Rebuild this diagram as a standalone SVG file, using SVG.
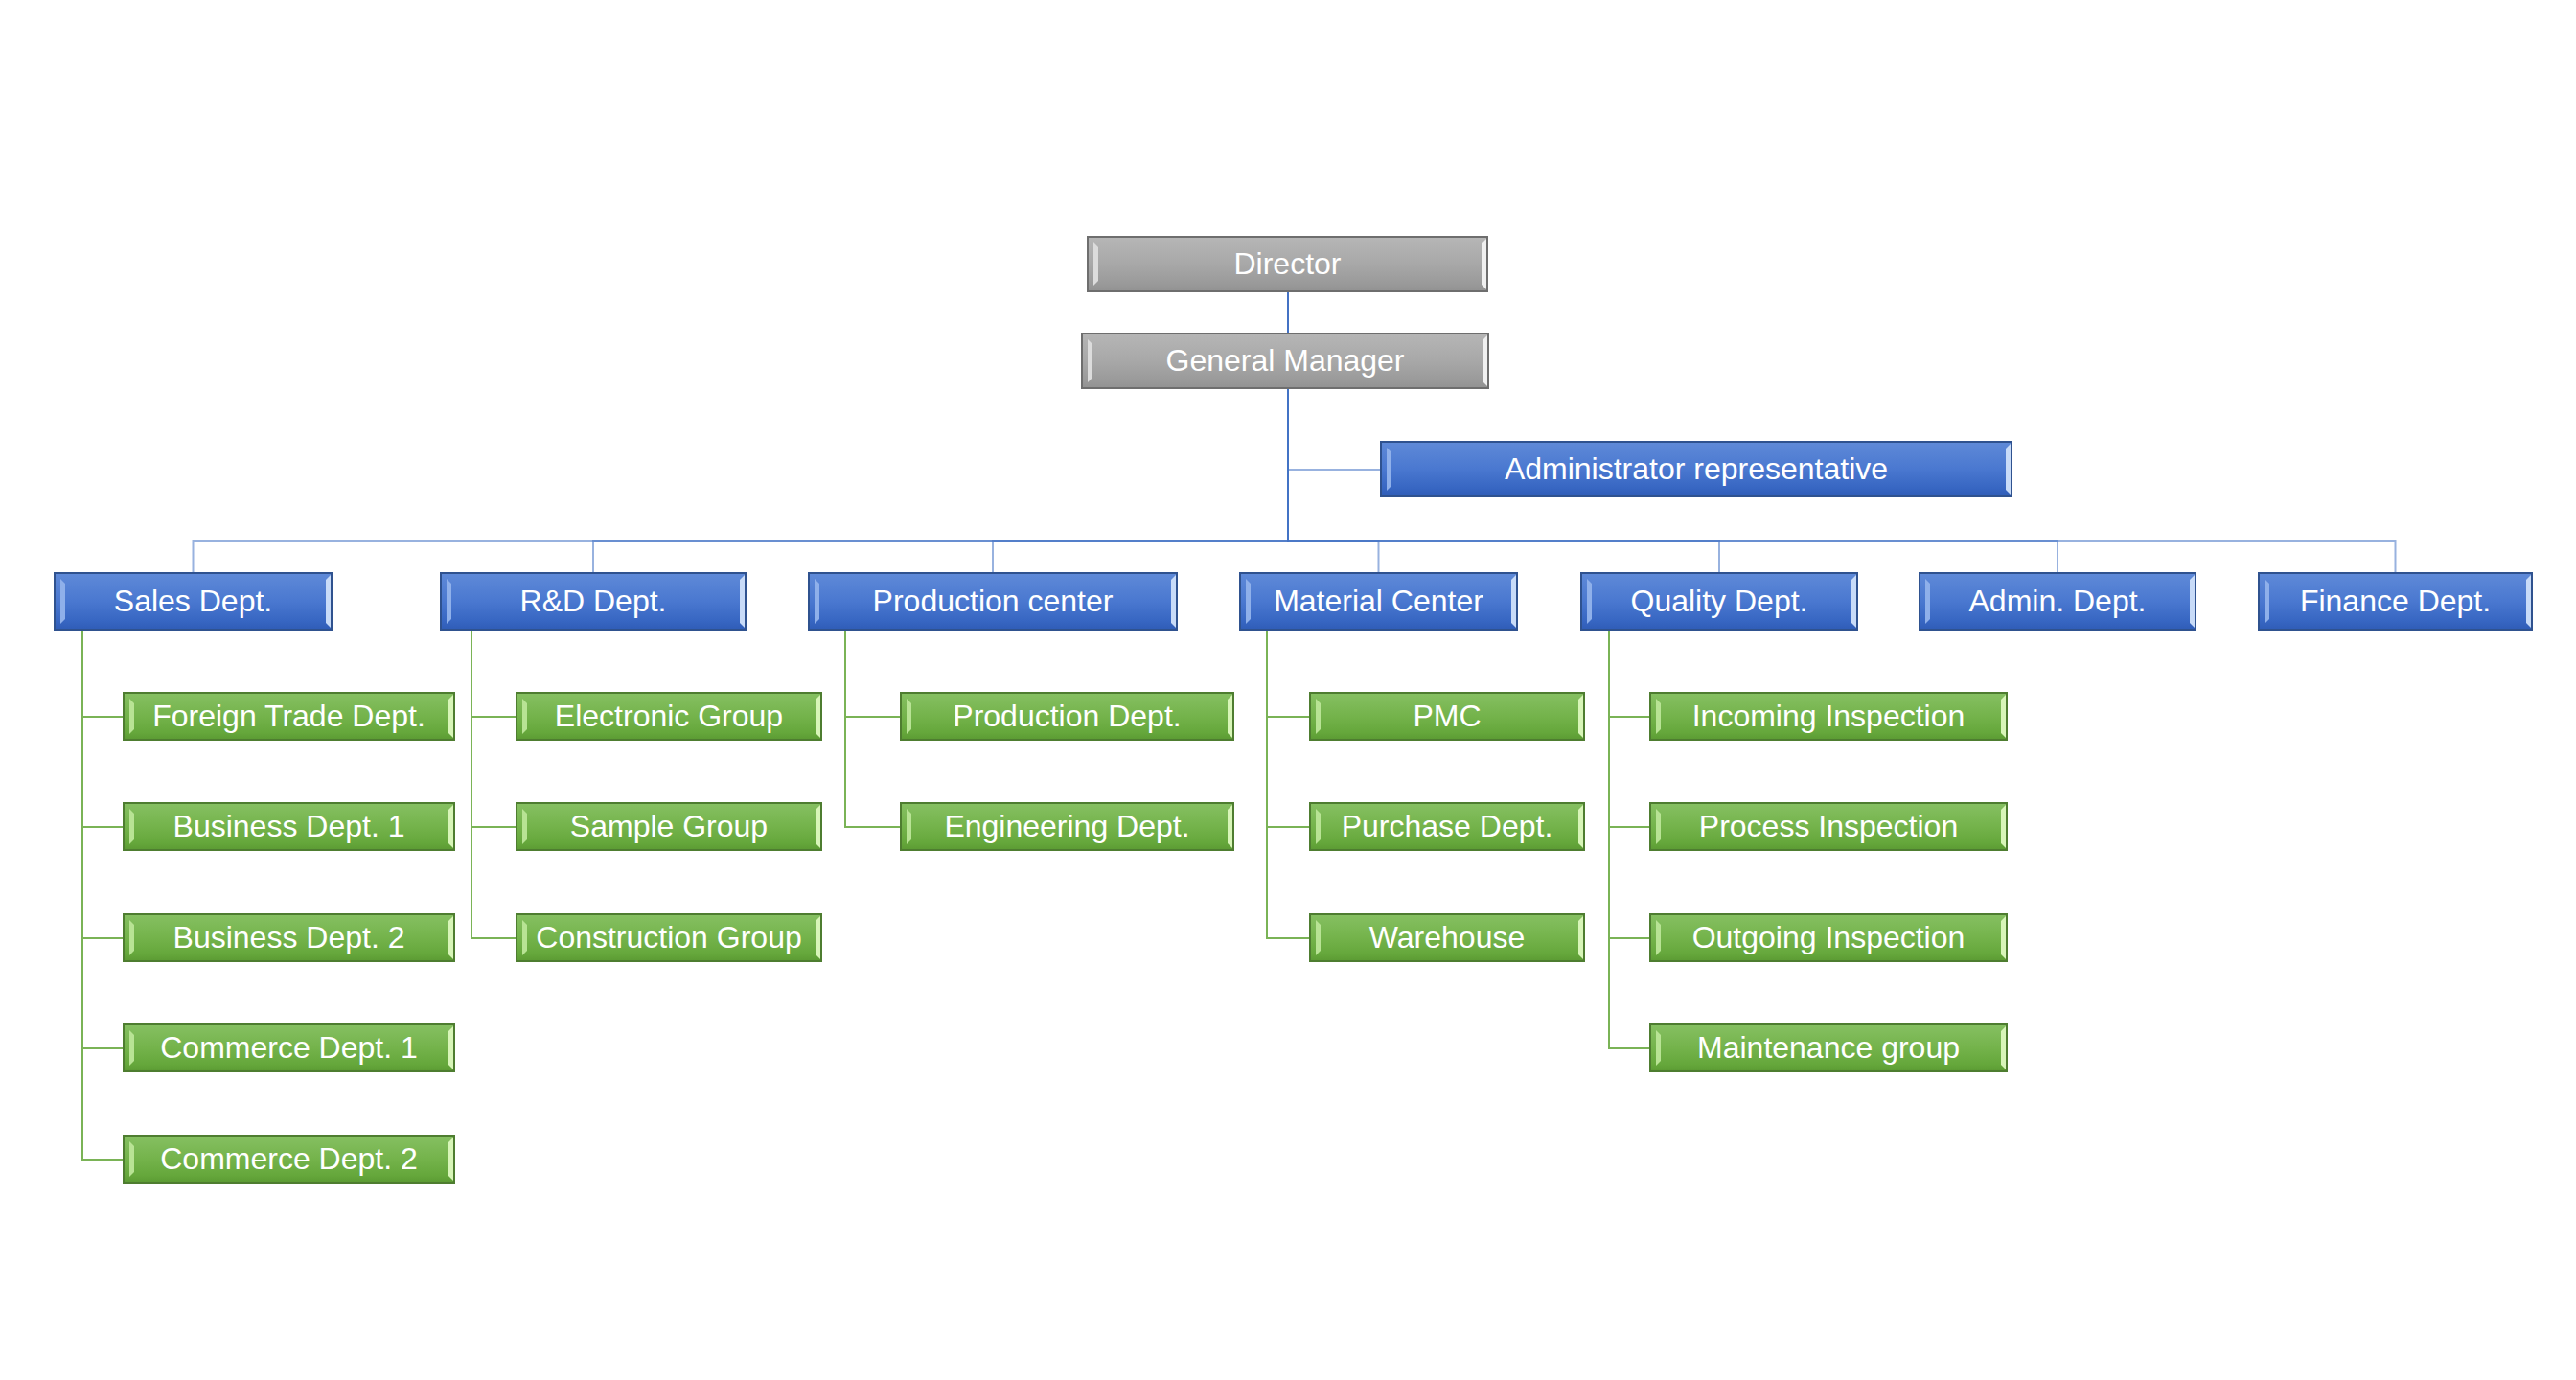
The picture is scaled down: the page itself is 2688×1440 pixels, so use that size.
<svg xmlns="http://www.w3.org/2000/svg" width="2688" height="1440" viewBox="0 0 2688 1440">
<defs>
<linearGradient id="gBlue" x1="0" y1="0" x2="0" y2="1">
<stop offset="0" stop-color="#5f8ad8"/><stop offset="0.5" stop-color="#4a78d0"/><stop offset="0.85" stop-color="#3766c2"/><stop offset="1" stop-color="#2f5cb6"/>
</linearGradient>
<linearGradient id="gGreen" x1="0" y1="0" x2="0" y2="1">
<stop offset="0" stop-color="#86c062"/><stop offset="0.5" stop-color="#74b34b"/><stop offset="0.85" stop-color="#65a73b"/><stop offset="1" stop-color="#5b9a33"/>
</linearGradient>
<linearGradient id="gGray" x1="0" y1="0" x2="0" y2="1">
<stop offset="0" stop-color="#b6b6b6"/><stop offset="0.5" stop-color="#a8a8a8"/><stop offset="0.85" stop-color="#9a9a9a"/><stop offset="1" stop-color="#929292"/>
</linearGradient>
</defs>
<style>
.box{stroke-width:2}
.blue .box{fill:url(#gBlue);stroke:#2f528f}
.green .box{fill:url(#gGreen);stroke:#4e7d30}
.gray .box{fill:url(#gGray);stroke:#6e6e6e}
.blue .bl{fill:#8fb0ea}
.blue .br{fill:#c8dbf8}
.green .bl{fill:#b8e394}
.green .br{fill:#d8f5b8}
.gray .bl{fill:#dcdcdc}
.gray .br{fill:#f0f0f0}
text{font-family:"Liberation Sans",Arial,sans-serif;font-size:32px;fill:#ffffff;text-anchor:middle}
.cb{fill:none;stroke:#4472c4;stroke-width:2;stroke-opacity:0.55}
.cbs{fill:none;stroke:#4472c4;stroke-width:2}
.cg{fill:none;stroke:#7ab356;stroke-width:2}
</style>
<rect width="2688" height="1440" fill="#ffffff"/>
<g id="connectors">
<path class="cbs" d="M1344 304 V348"/>
<path class="cb" d="M1344 405 V490 H1441"/>
<path class="cb" d="M1344 405 V565 H201.5 V598"/>
<path class="cb" d="M1344 405 V565 H619 V598"/>
<path class="cb" d="M1344 405 V565 H1036 V598"/>
<path class="cb" d="M1344 405 V565 H1438.5 V598"/>
<path class="cb" d="M1344 405 V565 H1794 V598"/>
<path class="cb" d="M1344 405 V565 H2147 V598"/>
<path class="cb" d="M1344 405 V565 H2499.5 V598"/>
<path class="cg" d="M86 657 V748 H129 M86 748 V863 H129 M86 863 V979 H129 M86 979 V1094 H129 M86 1094 V1210 H129"/>
<path class="cg" d="M492 657 V748 H539 M492 748 V863 H539 M492 863 V979 H539"/>
<path class="cg" d="M882 657 V748 H940 M882 748 V863 H940"/>
<path class="cg" d="M1322 657 V748 H1367 M1322 748 V863 H1367 M1322 863 V979 H1367"/>
<path class="cg" d="M1679 657 V748 H1722 M1679 748 V863 H1722 M1679 863 V979 H1722 M1679 979 V1094 H1722"/>
</g>
<g id="director" class="gray"><rect class="box" x="1135" y="247" width="417" height="57"/><polygon class="bl" points="1141,253 1146,258 1146,293 1141,298"/><polygon class="br" points="1551,249 1546,254 1546,297 1551,302"/><text x="1343.5" y="285.5">Director</text></g>
<g id="general-manager" class="gray"><rect class="box" x="1129" y="348" width="424" height="57"/><polygon class="bl" points="1135,354 1140,359 1140,394 1135,399"/><polygon class="br" points="1552,350 1547,355 1547,398 1552,403"/><text x="1341" y="386.5">General Manager</text></g>
<g id="admin-rep" class="blue"><rect class="box" x="1441" y="461" width="658" height="57"/><polygon class="bl" points="1447,467 1452,472 1452,507 1447,512"/><polygon class="br" points="2098,463 2093,468 2093,511 2098,516"/><text x="1770" y="499.5">Administrator representative</text></g>
<g id="sales" class="blue"><rect class="box" x="57" y="598" width="289" height="59"/><polygon class="bl" points="63,604 68,609 68,646 63,651"/><polygon class="br" points="345,600 340,605 340,650 345,655"/><text x="201.5" y="637.5">Sales Dept.</text></g>
<g id="rnd" class="blue"><rect class="box" x="460" y="598" width="318" height="59"/><polygon class="bl" points="466,604 471,609 471,646 466,651"/><polygon class="br" points="777,600 772,605 772,650 777,655"/><text x="619" y="637.5">R&amp;D Dept.</text></g>
<g id="production-center" class="blue"><rect class="box" x="844" y="598" width="384" height="59"/><polygon class="bl" points="850,604 855,609 855,646 850,651"/><polygon class="br" points="1227,600 1222,605 1222,650 1227,655"/><text x="1036" y="637.5">Production center</text></g>
<g id="material-center" class="blue"><rect class="box" x="1294" y="598" width="289" height="59"/><polygon class="bl" points="1300,604 1305,609 1305,646 1300,651"/><polygon class="br" points="1582,600 1577,605 1577,650 1582,655"/><text x="1438.5" y="637.5">Material Center</text></g>
<g id="quality" class="blue"><rect class="box" x="1650" y="598" width="288" height="59"/><polygon class="bl" points="1656,604 1661,609 1661,646 1656,651"/><polygon class="br" points="1937,600 1932,605 1932,650 1937,655"/><text x="1794" y="637.5">Quality Dept.</text></g>
<g id="admin-dept" class="blue"><rect class="box" x="2003" y="598" width="288" height="59"/><polygon class="bl" points="2009,604 2014,609 2014,646 2009,651"/><polygon class="br" points="2290,600 2285,605 2285,650 2290,655"/><text x="2147" y="637.5">Admin. Dept.</text></g>
<g id="finance" class="blue"><rect class="box" x="2357" y="598" width="285" height="59"/><polygon class="bl" points="2363,604 2368,609 2368,646 2363,651"/><polygon class="br" points="2641,600 2636,605 2636,650 2641,655"/><text x="2499.5" y="637.5">Finance Dept.</text></g>
<g id="foreign-trade" class="green"><rect class="box" x="129" y="723" width="345" height="49"/><polygon class="bl" points="135,729 140,734 140,761 135,766"/><polygon class="br" points="473,725 468,730 468,765 473,770"/><text x="301.5" y="757.5">Foreign Trade Dept.</text></g>
<g id="business-1" class="green"><rect class="box" x="129" y="838" width="345" height="49"/><polygon class="bl" points="135,844 140,849 140,876 135,881"/><polygon class="br" points="473,840 468,845 468,880 473,885"/><text x="301.5" y="872.5">Business Dept. 1</text></g>
<g id="business-2" class="green"><rect class="box" x="129" y="954" width="345" height="49"/><polygon class="bl" points="135,960 140,965 140,992 135,997"/><polygon class="br" points="473,956 468,961 468,996 473,1001"/><text x="301.5" y="988.5">Business Dept. 2</text></g>
<g id="commerce-1" class="green"><rect class="box" x="129" y="1069" width="345" height="49"/><polygon class="bl" points="135,1075 140,1080 140,1107 135,1112"/><polygon class="br" points="473,1071 468,1076 468,1111 473,1116"/><text x="301.5" y="1103.5">Commerce Dept. 1</text></g>
<g id="commerce-2" class="green"><rect class="box" x="129" y="1185" width="345" height="49"/><polygon class="bl" points="135,1191 140,1196 140,1223 135,1228"/><polygon class="br" points="473,1187 468,1192 468,1227 473,1232"/><text x="301.5" y="1219.5">Commerce Dept. 2</text></g>
<g id="electronic" class="green"><rect class="box" x="539" y="723" width="318" height="49"/><polygon class="bl" points="545,729 550,734 550,761 545,766"/><polygon class="br" points="856,725 851,730 851,765 856,770"/><text x="698" y="757.5">Electronic Group</text></g>
<g id="sample" class="green"><rect class="box" x="539" y="838" width="318" height="49"/><polygon class="bl" points="545,844 550,849 550,876 545,881"/><polygon class="br" points="856,840 851,845 851,880 856,885"/><text x="698" y="872.5">Sample Group</text></g>
<g id="construction" class="green"><rect class="box" x="539" y="954" width="318" height="49"/><polygon class="bl" points="545,960 550,965 550,992 545,997"/><polygon class="br" points="856,956 851,961 851,996 856,1001"/><text x="698" y="988.5">Construction Group</text></g>
<g id="production-dept" class="green"><rect class="box" x="940" y="723" width="347" height="49"/><polygon class="bl" points="946,729 951,734 951,761 946,766"/><polygon class="br" points="1286,725 1281,730 1281,765 1286,770"/><text x="1113.5" y="757.5">Production Dept.</text></g>
<g id="engineering" class="green"><rect class="box" x="940" y="838" width="347" height="49"/><polygon class="bl" points="946,844 951,849 951,876 946,881"/><polygon class="br" points="1286,840 1281,845 1281,880 1286,885"/><text x="1113.5" y="872.5">Engineering Dept.</text></g>
<g id="pmc" class="green"><rect class="box" x="1367" y="723" width="286" height="49"/><polygon class="bl" points="1373,729 1378,734 1378,761 1373,766"/><polygon class="br" points="1652,725 1647,730 1647,765 1652,770"/><text x="1510" y="757.5">PMC</text></g>
<g id="purchase" class="green"><rect class="box" x="1367" y="838" width="286" height="49"/><polygon class="bl" points="1373,844 1378,849 1378,876 1373,881"/><polygon class="br" points="1652,840 1647,845 1647,880 1652,885"/><text x="1510" y="872.5">Purchase Dept.</text></g>
<g id="warehouse" class="green"><rect class="box" x="1367" y="954" width="286" height="49"/><polygon class="bl" points="1373,960 1378,965 1378,992 1373,997"/><polygon class="br" points="1652,956 1647,961 1647,996 1652,1001"/><text x="1510" y="988.5">Warehouse</text></g>
<g id="incoming" class="green"><rect class="box" x="1722" y="723" width="372" height="49"/><polygon class="bl" points="1728,729 1733,734 1733,761 1728,766"/><polygon class="br" points="2093,725 2088,730 2088,765 2093,770"/><text x="1908" y="757.5">Incoming Inspection</text></g>
<g id="process" class="green"><rect class="box" x="1722" y="838" width="372" height="49"/><polygon class="bl" points="1728,844 1733,849 1733,876 1728,881"/><polygon class="br" points="2093,840 2088,845 2088,880 2093,885"/><text x="1908" y="872.5">Process Inspection</text></g>
<g id="outgoing" class="green"><rect class="box" x="1722" y="954" width="372" height="49"/><polygon class="bl" points="1728,960 1733,965 1733,992 1728,997"/><polygon class="br" points="2093,956 2088,961 2088,996 2093,1001"/><text x="1908" y="988.5">Outgoing Inspection</text></g>
<g id="maintenance" class="green"><rect class="box" x="1722" y="1069" width="372" height="49"/><polygon class="bl" points="1728,1075 1733,1080 1733,1107 1728,1112"/><polygon class="br" points="2093,1071 2088,1076 2088,1111 2093,1116"/><text x="1908" y="1103.5">Maintenance group</text></g>
</svg>
